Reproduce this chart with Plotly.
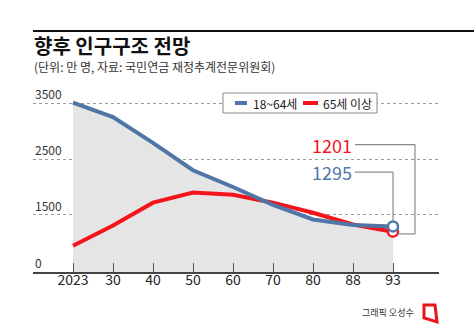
import plotly.graph_objects as go

# ---- data ----
years = ["2023", "30", "40", "50", "60", "70", "80", "88", "93"]
age_18_64 = [3510, 3250, 2790, 2300, 2000, 1680, 1420, 1320, 1295]
age_65_plus = [950, 1310, 1720, 1900, 1860, 1720, 1540, 1330, 1201]
series_names = ["18~64세", "65세 이상"]
y_tickvals = [480, 1500, 2500, 3500]
y_ticktext = ["0", "1500", "2500", "3500"]

title = "향후 인구구조 전망"
subtitle = "(단위: 만 명, 자료: 국민연금 재정추계전문위원회)"
credit = "그래픽 오성수"

BLUE = "#4f76a6"
RED = "#f5141c"
FONT = "Noto Sans CJK KR"

W, H = 474, 331
L, R, T, B = 33, 439, 92, 272


def px(x):
    return (x - L) / (R - L)


def py(y):
    return (B - y) / (B - T)


fig = go.Figure()
fig.add_trace(go.Scatter(x=years, y=age_18_64, mode="lines", line=dict(width=0),
                         fill="tozeroy", fillcolor="#e5e5e5", hoverinfo="skip",
                         showlegend=False))
fig.add_trace(go.Scatter(x=years, y=age_65_plus, mode="lines", name=series_names[1],
                         line=dict(color=RED, width=4), showlegend=False))
fig.add_trace(go.Scatter(x=years, y=age_18_64, mode="lines", name=series_names[0],
                         line=dict(color=BLUE, width=4), showlegend=False))
fig.add_trace(go.Scatter(x=[years[-1]], y=[age_65_plus[-1]], mode="markers",
                         marker=dict(size=10, color="white", line=dict(color=RED, width=2.5)),
                         showlegend=False))
fig.add_trace(go.Scatter(x=[years[-1]], y=[age_18_64[-1]], mode="markers",
                         marker=dict(size=10, color="white", line=dict(color=BLUE, width=2.5)),
                         showlegend=False))

shapes = []
annotations = []

shapes.append(dict(type="line", xref="paper", yref="paper", x0=px(33), x1=px(474),
                   y0=py(31), y1=py(31), line=dict(color="#111", width=2)))

# y tick labels above gridlines
for v, t in zip(y_tickvals, y_ticktext):
    annotations.append(dict(xref="paper", yref="y", x=0, y=v, text=t, showarrow=False,
                            xanchor="left", yanchor="bottom", yshift=-1,
                            font=dict(family=FONT, size=12, color="#333")))

# leader lines (data coords)
n = len(years) - 1
y_lab_red = 2760
y_lab_blue = 2266
gray = "#8a8a8a"
shapes += [
    dict(type="line", xref="x", yref="y", x0=n - 0.95, x1=n + 0.55, y0=y_lab_red, y1=y_lab_red,
         line=dict(color=gray, width=1.2)),
    dict(type="line", xref="x", yref="y", x0=n + 0.55, x1=n + 0.55, y0=y_lab_red, y1=age_65_plus[-1] - 40,
         line=dict(color=gray, width=1.2)),
    dict(type="line", xref="x", yref="y", x0=n + 0.55, x1=n + 0.12, y0=age_65_plus[-1] - 40,
         y1=age_65_plus[-1] - 40, line=dict(color=gray, width=1.2)),
    dict(type="line", xref="x", yref="y", x0=n - 0.95, x1=n, y0=y_lab_blue, y1=y_lab_blue,
         line=dict(color=gray, width=1.2)),
    dict(type="line", xref="x", yref="y", x0=n, x1=n, y0=y_lab_blue, y1=age_18_64[-1] + 95,
         line=dict(color=gray, width=1.2)),
]
annotations += [
    dict(xref="x", yref="y", x=n - 0.97, y=y_lab_red, text=str(age_65_plus[-1]), showarrow=False,
         xanchor="right", yanchor="middle", font=dict(family=FONT, size=18, color=RED)),
    dict(xref="x", yref="y", x=n - 0.97, y=y_lab_blue, text=str(age_18_64[-1]), showarrow=False,
         xanchor="right", yanchor="middle", font=dict(family=FONT, size=18, color=BLUE)),
]

# legend (manual)
shapes.append(dict(type="rect", xref="paper", yref="paper", x0=px(223), x1=px(377),
                   y0=py(113), y1=py(93), fillcolor="white", line=dict(color="#8a8a8a", width=1)))
for (x0, x1, tx, col, name) in [(235, 247, 251, BLUE, series_names[0]),
                                (303, 318, 321, RED, series_names[1])]:
    shapes.append(dict(type="line", xref="paper", yref="paper", x0=px(x0), x1=px(x1),
                       y0=py(103), y1=py(103), line=dict(color=col, width=4)))
    annotations.append(dict(xref="paper", yref="paper", x=px(tx), y=py(103), text=name,
                            showarrow=False, xanchor="left", yanchor="middle",
                            font=dict(family=FONT, size=12, color="#222")))

annotations += [
    dict(xref="paper", yref="paper", x=px(32), y=py(45), text=f"<b>{title}</b>", showarrow=False,
         xanchor="left", yanchor="middle", font=dict(family=FONT, size=20, color="#111")),
    dict(xref="paper", yref="paper", x=px(32), y=py(66), text=subtitle, showarrow=False,
         xanchor="left", yanchor="middle", font=dict(family=FONT, size=12, color="#333")),
    dict(xref="paper", yref="paper", x=px(416), y=py(312), text=credit, showarrow=False,
         xanchor="right", yanchor="middle", font=dict(family=FONT, size=9, color="#333")),
]

shapes.append(dict(type="path", xref="paper", yref="paper",
                   path=f"M {px(424)} {py(305)} L {px(435)} {py(305)} L {px(437)} {py(322)} "
                        f"L {px(424)} {py(318)} Z",
                   line=dict(color="#e8141b", width=3), fillcolor="rgba(0,0,0,0)"))

fig.update_layout(
    width=W, height=H,
    margin=dict(l=L, r=W - R, t=T, b=H - B),
    paper_bgcolor="white", plot_bgcolor="white",
    shapes=shapes, annotations=annotations,
    showlegend=False,
    xaxis=dict(type="category", range=[-1, 9.15], showgrid=False, ticks="inside", ticklen=9,
               tickcolor="#555", tickwidth=1, showline=True, linecolor="#444", linewidth=1.5,
               tickfont=dict(family=FONT, size=14, color="#222"), zeroline=False,
               ticklabelstandoff=-6),
    yaxis=dict(range=[480, 3700], tickvals=y_tickvals, showticklabels=False,
               showgrid=True, gridcolor="#9a9a9a", griddash="dot",
               gridwidth=1, zeroline=False, showline=False, ticks=""),
)

fig.write_html("out.html")
